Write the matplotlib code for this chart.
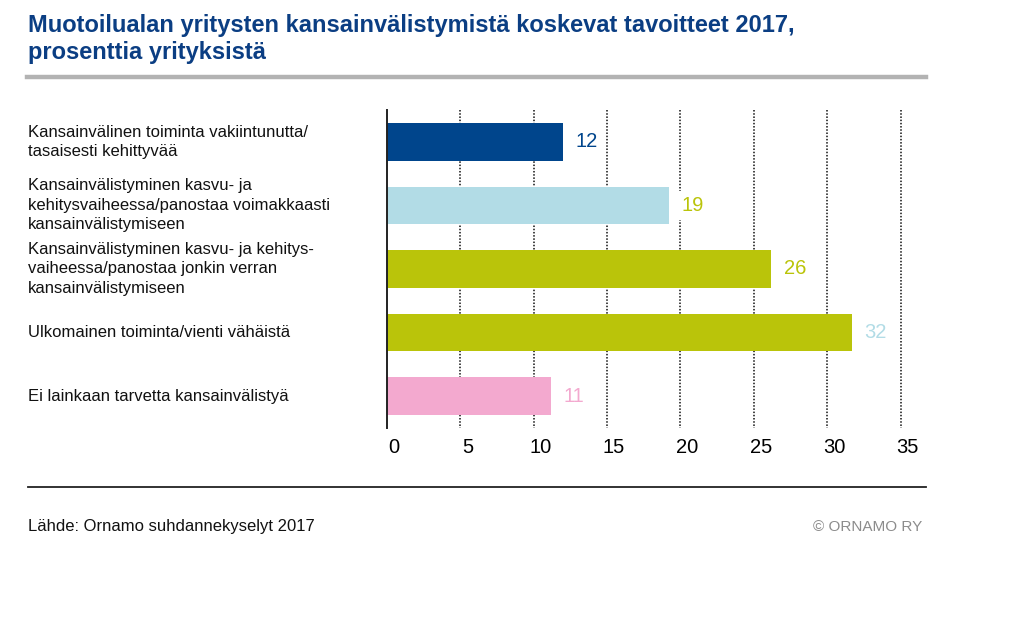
import matplotlib.pyplot as plt
import matplotlib.transforms as mtransforms
from matplotlib.lines import Line2D

# Data
categories = [
    "Kansainvälinen toiminta vakiintunutta/\ntasaisesti kehittyvää",
    "Kansainvälistyminen kasvu- ja\nkehitysvaiheessa/panostaa voimakkaasti\nkansainvälistymiseen",
    "Kansainvälistyminen kasvu- ja kehitys-\nvaiheessa/panostaa jonkin verran\nkansainvälistymiseen",
    "Ulkomainen toiminta/vienti vähäistä",
    "Ei lainkaan tarvetta kansainvälistyä",
]
values = [12.0, 19.2, 26.2, 31.7, 11.2]
value_labels = ["12", "19", "26", "32", "11"]
bar_colors = ["#00458c", "#b2dce6", "#bac40a", "#bac40a", "#f3a9cf"]
label_colors = ["#00458c", "#bac40a", "#bac40a", "#b2dce6", "#f3a9cf"]
xticks = [0, 5, 10, 15, 20, 25, 30, 35]

title = ("Muotoilualan yritysten kansainvälistymistä koskevat tavoitteet 2017,\n"
         "prosenttia yrityksistä")
source = "Lähde: Ornamo suhdannekyselyt 2017"
credit = "© ORNAMO RY"

plt.rcParams['font.family'] = ['Liberation Sans', 'DejaVu Sans']

fig = plt.figure(figsize=(10.24, 6.25), dpi=100)
ax = fig.add_axes([387 / 1024, 1 - 428 / 625, 513.5 / 1024, 318 / 625])

ypos = list(range(len(categories)))
ax.barh(ypos, values, height=0.594, color=bar_colors, zorder=3)
ax.set_xlim(0, 35)
ax.set_ylim(len(categories) - 0.5, -0.5)

# dotted gridlines
ax.vlines(xticks[1:], -0.5, len(categories) - 0.5, colors="#111111",
          linestyles=(0, (1, 1.1)), linewidth=1.1, zorder=1, clip_on=False)

for s in ["top", "right", "bottom"]:
    ax.spines[s].set_visible(False)
ax.spines["left"].set_color("#222222")
ax.spines["left"].set_linewidth(1.4)
ax.spines["left"].set_zorder(4)

ax.set_xticks(xticks)
ax.set_xticklabels([str(t) for t in xticks], fontsize=14.5)
ax.tick_params(axis="x", length=0, pad=7)
shift = mtransforms.ScaledTranslation(7 / 100, 0, fig.dpi_scale_trans)
for lab in ax.get_xticklabels():
    lab.set_transform(lab.get_transform() + shift)

ax.set_yticks([])
lab_trans = mtransforms.blended_transform_factory(fig.transFigure, ax.transData)
for y, cat in zip(ypos, categories):
    ax.text(28 / 1024, y, cat, transform=lab_trans,
            ha="left", va="center", fontsize=12, linespacing=1.38, color="#111111")

for y, v, lab, c in zip(ypos, values, value_labels, label_colors):
    ax.annotate(lab, (v, y), xytext=(9, 0), textcoords="offset points",
                ha="left", va="center", fontsize=14.5, color=c, zorder=5,
                bbox=dict(boxstyle="square,pad=0.25", fc="white", ec="none"))

# title and rules
fig.text(28 / 1024, 1 - 39 / 625, title, ha="left", va="center", fontsize=17,
         fontweight="bold", color="#0b3e83", linespacing=1.22)
fig.add_artist(Line2D([27 / 1024, 926 / 1024], [1 - 77 / 625] * 2,
                      transform=fig.transFigure, color="#b3b3b3", linewidth=3.2))
fig.add_artist(Line2D([28 / 1024, 926 / 1024], [1 - 487 / 625] * 2,
                      transform=fig.transFigure, color="#222222", linewidth=1.3))

fig.text(28 / 1024, 1 - 527 / 625, source, ha="left", va="center", fontsize=12, color="#111111")
fig.text(922 / 1024, 1 - 527 / 625, credit, ha="right", va="center", fontsize=11, color="#8c8c8c")

fig.savefig("out.png", dpi=100, facecolor="white")
